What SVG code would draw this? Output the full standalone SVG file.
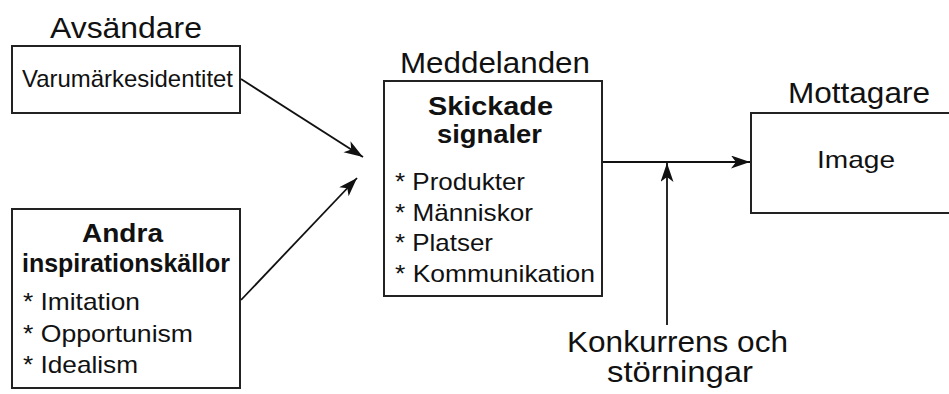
<svg xmlns="http://www.w3.org/2000/svg" width="949" height="394" viewBox="0 0 949 394">
<style>
text{font-family:"Liberation Sans",Arial,Helvetica,sans-serif;fill:#111}
.t{font-size:30px}
.b{font-size:24px}
.h{font-size:26px;font-weight:bold}
.box{fill:#fff;stroke:#222;stroke-width:2}
.c{fill:none;stroke:#111;stroke-width:1.8}
</style>
<defs>
<marker id="ah" markerUnits="userSpaceOnUse" markerWidth="22" markerHeight="14" refX="19" refY="6.5" orient="auto">
<path d="M0,0 L19,6.5 L0,13 L5,6.5 z" fill="#111"/>
</marker>
</defs>
<rect width="949" height="394" fill="#fff"/>
<g id="connectors">
<line class="c" x1="241" y1="79" x2="363" y2="157" marker-end="url(#ah)"/>
<line class="c" x1="241" y1="300" x2="357" y2="178" marker-end="url(#ah)"/>
<line class="c" x1="602" y1="162" x2="750" y2="162" marker-end="url(#ah)"/>
<line class="c" x1="667" y1="325" x2="667" y2="163" marker-end="url(#ah)"/>
</g>
<g id="avsandare">
<text class="t" x="50" y="38" textLength="152" lengthAdjust="spacingAndGlyphs">Avsändare</text>
<rect class="box" x="12" y="46" width="228" height="67"/>
<text class="b" x="22" y="87" textLength="211" lengthAdjust="spacingAndGlyphs">Varumärkesidentitet</text>
</g>
<g id="andra">
<rect class="box" x="12" y="209" width="228" height="179"/>
<text class="h" x="82" y="242" textLength="81" lengthAdjust="spacingAndGlyphs">Andra</text>
<text class="h" x="22" y="272" textLength="208" lengthAdjust="spacingAndGlyphs">inspirationskällor</text>
<text class="b" x="23" y="310" textLength="117" lengthAdjust="spacingAndGlyphs">* Imitation</text>
<text class="b" x="23" y="342" textLength="170" lengthAdjust="spacingAndGlyphs">* Opportunism</text>
<text class="b" x="23" y="373" textLength="115" lengthAdjust="spacingAndGlyphs">* Idealism</text>
</g>
<g id="meddelanden">
<text class="t" x="400" y="73" textLength="190" lengthAdjust="spacingAndGlyphs">Meddelanden</text>
<rect class="box" x="384" y="81" width="218" height="215"/>
<text class="h" x="428" y="115" textLength="125" lengthAdjust="spacingAndGlyphs">Skickade</text>
<text class="h" x="437" y="143" textLength="105" lengthAdjust="spacingAndGlyphs">signaler</text>
<text class="b" x="395" y="190" textLength="130" lengthAdjust="spacingAndGlyphs">* Produkter</text>
<text class="b" x="395" y="221" textLength="138" lengthAdjust="spacingAndGlyphs">* Människor</text>
<text class="b" x="395" y="251" textLength="98" lengthAdjust="spacingAndGlyphs">* Platser</text>
<text class="b" x="395" y="282" textLength="200" lengthAdjust="spacingAndGlyphs">* Kommunikation</text>
</g>
<g id="mottagare">
<text class="t" x="788" y="103" textLength="142" lengthAdjust="spacingAndGlyphs">Mottagare</text>
<rect class="box" x="751" y="113" width="220" height="100"/>
<text class="b" x="817" y="168" textLength="78" lengthAdjust="spacingAndGlyphs">Image</text>
</g>
<g id="konkurrens">
<text class="t" x="567" y="352" textLength="221" lengthAdjust="spacingAndGlyphs">Konkurrens och</text>
<text class="t" x="607" y="382" textLength="146" lengthAdjust="spacingAndGlyphs">störningar</text>
</g>
</svg>
